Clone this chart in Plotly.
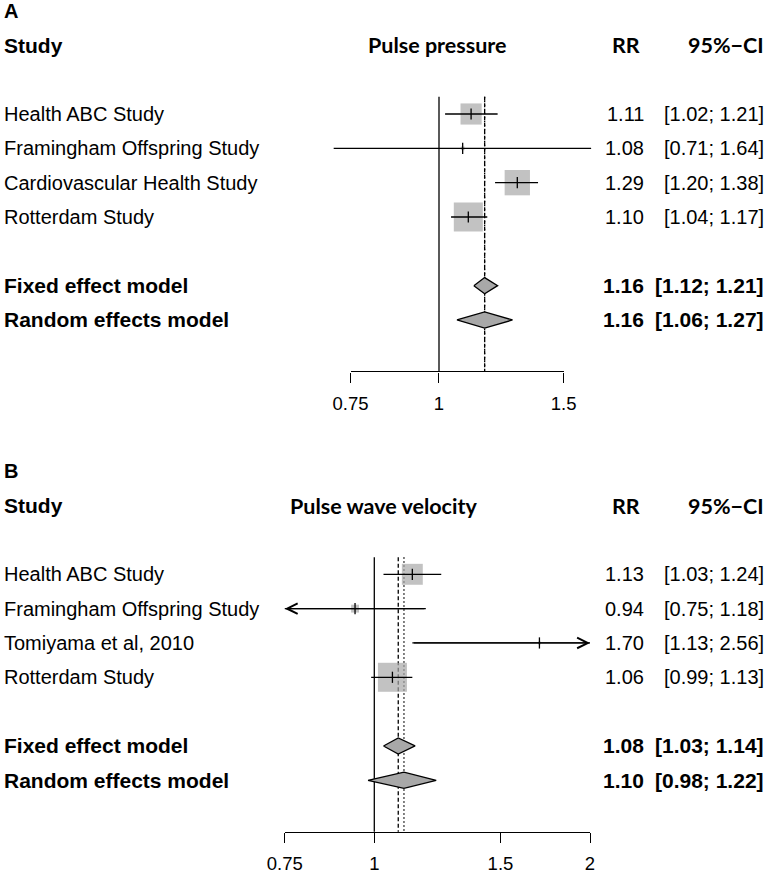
import math
import plotly.graph_objects as go

W, H = 765, 873

# ---------------- data ----------------
panel_letters = ["A", "B"]
effect_labels = ["Pulse pressure", "Pulse wave velocity"]

studies_a = ["Health ABC Study", "Framingham Offspring Study",
             "Cardiovascular Health Study", "Rotterdam Study"]
rr_a = [1.11, 1.08, 1.29, 1.10]
lo_a = [1.02, 0.71, 1.20, 1.04]
hi_a = [1.21, 1.64, 1.38, 1.17]
weight_a = [23.0, 0.7, 33.0, 43.3]
fixed_a = [1.16, 1.12, 1.21]      # estimate, lower, upper
random_a = [1.16, 1.06, 1.27]

studies_b = ["Health ABC Study", "Framingham Offspring Study",
             "Tomiyama et al, 2010", "Rotterdam Study"]
rr_b = [1.13, 0.94, 1.70, 1.06]
lo_b = [1.03, 0.748, 1.13, 0.99]
hi_b = [1.24, 1.18, 2.56, 1.13]
weight_b = [32.5, 4.6, 0.6, 62.3]
fixed_b = [1.08, 1.03, 1.14]
random_b = [1.10, 0.98, 1.22]

model_labels = ["Fixed effect model", "Random effects model"]
col_headers = ["Study", "RR", "95%\u2212CI"]

ticks_a = [0.75, 1, 1.5]
tick_labels_a = ["0.75", "1", "1.5"]
ticks_b = [0.75, 1, 1.5, 2]
tick_labels_b = ["0.75", "1", "1.5", "2"]

xlim_a = [0.70, 1.70]
xlim_b = [0.75, 2.0]

# ---------------- layout constants ----------------
ROW_PX = 34.33
ROW0_A = 114.0
ROW0_B = 574.3
R_TOP = -ROW0_A / ROW_PX
R_BOT = (H - ROW0_A) / ROW_PX
OFF_B = (ROW0_B - ROW0_A) / ROW_PX

ARIAL = "Liberation Sans, Arial, sans-serif"
HEAD = "Lato, Calibri, sans-serif"
GREY = "#a8a8a8"
LW = 1.3
LEFT_PX, RR_PX, CI_PX = 1.5, 645.5, 766.0

panels = [
    dict(studies=studies_a, rr=rr_a, lo=lo_a, hi=hi_a, w=weight_a, fixed=fixed_a,
         random=random_a, ticks=ticks_a, ticklab=tick_labels_a, xlim=xlim_a,
         one_px=439.0, per_ln=307.5, off=0.0, lab_center=437.0),
    dict(studies=studies_b, rr=rr_b, lo=lo_b, hi=hi_b, w=weight_b, fixed=fixed_b,
         random=random_b, ticks=ticks_b, ticklab=tick_labels_b, xlim=xlim_b,
         one_px=374.3, per_ln=311.2, off=OFF_B, lab_center=383.0),
]

fig = go.Figure()
annotations = []
layout_axes = {}


def ann(text, xpx, row, anchor="left", size=20, family=ARIAL, bold=False):
    t = f"<b>{text}</b>" if bold else text
    annotations.append(dict(text=t, x=xpx / W, xref="paper", y=row, yref="y",
                            xanchor=anchor, yanchor="middle", showarrow=False,
                            font=dict(size=size, family=family, color="black")))


def paper_y(row):
    return 1 - (row - R_TOP) / (R_BOT - R_TOP)


for i, p in enumerate(panels):
    dx = "x" if i == 0 else "x2"
    disp = "x3" if i == 0 else "x4"
    off = p["off"]
    per_l10 = p["per_ln"] * math.log(10)
    px = lambda v, p=p, per_l10=per_l10: p["one_px"] + per_l10 * math.log10(v)

    n = len(p["studies"])
    rows = [off + k for k in range(n)]
    mrows = [off + n + 1, off + n + 2]
    top, axis_row = off - 0.5, off + 7.5

    # reference lines
    fig.add_trace(go.Scatter(x=[1, 1], y=[top, axis_row], mode="lines",
                             line=dict(color="black", width=LW), xaxis=dx, yaxis="y",
                             showlegend=False, hoverinfo="skip"))
    fig.add_trace(go.Scatter(x=[p["random"][0]] * 2, y=[top, axis_row], mode="lines",
                             line=dict(color="black", width=LW, dash="1.5px,2.5px"),
                             xaxis=dx, yaxis="y", showlegend=False, hoverinfo="skip"))
    fig.add_trace(go.Scatter(x=[p["fixed"][0]] * 2, y=[top, axis_row], mode="lines",
                             line=dict(color="black", width=LW, dash="4px,2.5px"),
                             xaxis=dx, yaxis="y", showlegend=False, hoverinfo="skip"))

    # squares
    wmax = max(p["w"])
    sizes = [29 * math.sqrt(w / wmax) for w in p["w"]]
    fig.add_trace(go.Scatter(x=p["rr"], y=rows, mode="markers",
                             marker=dict(symbol="square", size=sizes, color=GREY,
                                         line=dict(width=0)),
                             xaxis=dx, yaxis="y", showlegend=False, hoverinfo="skip"))

    # CI lines (clipped to xlim) + arrows
    xs, ys = [], []
    for k in range(n):
        lo_c = max(p["lo"][k], p["xlim"][0])
        hi_c = min(p["hi"][k], p["xlim"][1])
        xs += [lo_c, hi_c, None]
        ys += [rows[k], rows[k], None]
        if p["lo"][k] < p["xlim"][0]:
            annotations.append(dict(x=math.log10(p["xlim"][0]), y=rows[k], xref=dx, yref="y",
                                    ax=math.log10(hi_c), ay=rows[k], axref=dx, ayref="y",
                                    text="", showarrow=True, arrowhead=5, arrowsize=1.6,
                                    arrowwidth=LW, arrowcolor="black", standoff=0))
        if p["hi"][k] > p["xlim"][1]:
            annotations.append(dict(x=math.log10(p["xlim"][1]), y=rows[k], xref=dx, yref="y",
                                    ax=math.log10(lo_c), ay=rows[k], axref=dx, ayref="y",
                                    text="", showarrow=True, arrowhead=5, arrowsize=1.6,
                                    arrowwidth=LW, arrowcolor="black", standoff=0))
    fig.add_trace(go.Scatter(x=xs, y=ys, mode="lines", line=dict(color="black", width=LW),
                             xaxis=dx, yaxis="y", showlegend=False, hoverinfo="skip"))

    # estimate ticks
    fig.add_trace(go.Scatter(x=p["rr"], y=rows, mode="markers",
                             marker=dict(symbol="line-ns", size=8,
                                         line=dict(color="black", width=LW)),
                             xaxis=dx, yaxis="y", showlegend=False, hoverinfo="skip"))

    # diamonds
    for m, r in zip([p["fixed"], p["random"]], mrows):
        est, lo, hi = m
        fig.add_trace(go.Scatter(x=[lo, est, hi, est, lo], y=[r, r - 0.235, r, r + 0.235, r],
                                 mode="lines", fill="toself", fillcolor=GREY,
                                 line=dict(color="black", width=LW),
                                 xaxis=dx, yaxis="y", showlegend=False, hoverinfo="skip"))

    # dummy trace to materialise the display axis
    fig.add_trace(go.Scatter(x=[1], y=[None], mode="markers", xaxis=disp, yaxis="y",
                             showlegend=False, hoverinfo="skip"))

    # data axis (full width, invisible)
    layout_axes["xaxis" if i == 0 else "xaxis2"] = dict(
        type="log", domain=[0, 1], visible=False, anchor="y",
        range=[(0 - p["one_px"]) / per_l10, (W - p["one_px"]) / per_l10])
    # display axis
    layout_axes["xaxis3" if i == 0 else "xaxis4"] = dict(
        type="log", domain=[px(p["ticks"][0]) / W, px(p["ticks"][-1]) / W],
        range=[math.log10(p["ticks"][0]), math.log10(p["ticks"][-1])],
        anchor="free", position=paper_y(axis_row), side="bottom",
        showline=True, linecolor="black", linewidth=LW, showgrid=False, zeroline=False,
        ticks="outside", ticklen=10, tickwidth=LW, tickcolor="black",
        tickvals=p["ticks"], ticktext=p["ticklab"], ticklabelstandoff=5,
        tickfont=dict(family=ARIAL, size=18.5, color="black"), automargin=False)

    # texts
    ann(panel_letters[i], LEFT_PX, off - 3, size=20, bold=True)
    ann(col_headers[0], LEFT_PX, off - 2, size=21, bold=True)
    ann(effect_labels[i], p["lab_center"], off - 2, anchor="center", size=21.5,
        family=HEAD, bold=True)
    ann(col_headers[1], RR_PX - 4, off - 2, anchor="right", size=21.5, family=HEAD, bold=True)
    ann(col_headers[2], CI_PX, off - 2, anchor="right", size=21.5, family=HEAD, bold=True)
    for k in range(n):
        ann(p["studies"][k], LEFT_PX, rows[k], size=20)
        ann(f"{p['rr'][k]:.2f}", RR_PX, rows[k], anchor="right", size=20)
        ann(f"[{p['lo'][k]:.2f}; {p['hi'][k]:.2f}]", CI_PX, rows[k], anchor="right", size=20)
    for lab, m, r in zip(model_labels, [p["fixed"], p["random"]], mrows):
        ann(lab, LEFT_PX, r, size=21, bold=True)
        ann(f"{m[0]:.2f}", RR_PX, r, anchor="right", size=21, bold=True)
        ann(f"[{m[1]:.2f}; {m[2]:.2f}]", CI_PX, r, anchor="right", size=21, bold=True)

fig.update_layout(
    width=W, height=H, margin=dict(l=0, r=0, t=0, b=0, autoexpand=False),
    paper_bgcolor="white", plot_bgcolor="rgba(0,0,0,0)",
    showlegend=False, annotations=annotations,
    yaxis=dict(domain=[0, 1], range=[R_BOT, R_TOP], visible=False, anchor="x"),
    **layout_axes,
)

fig.write_html("out.html", config={"displayModeBar": False},
               post_script="document.body.style.margin='0';document.body.style.padding='0';"
                           "document.body.style.overflow='hidden';")
